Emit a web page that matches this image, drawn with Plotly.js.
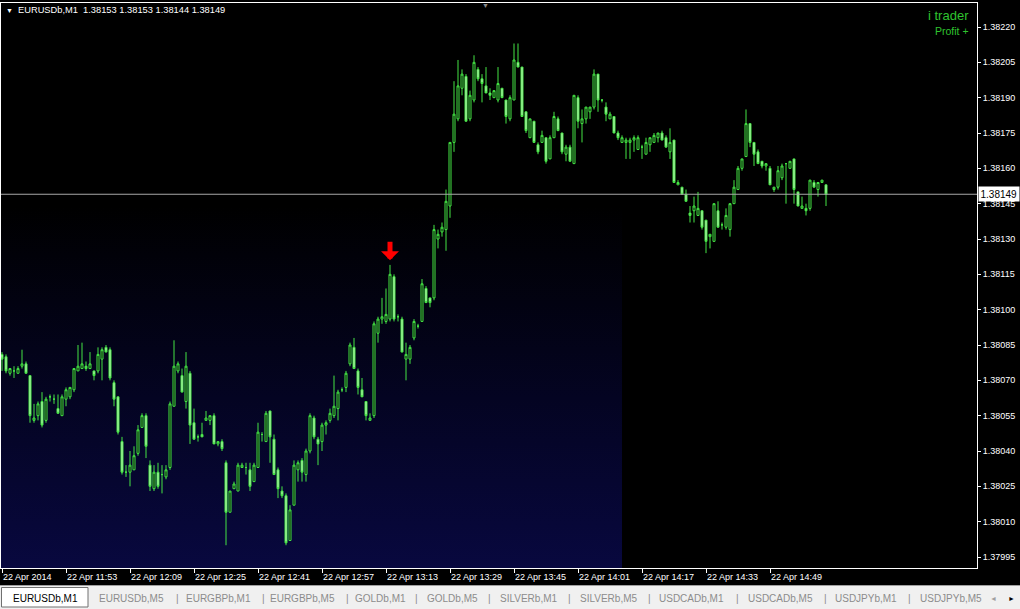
<!DOCTYPE html>
<html><head><meta charset="utf-8">
<script src="https://cdn.plot.ly/plotly-3.0.1.min.js"></script>
<style>html,body{margin:0;padding:0;background:#000;overflow:hidden}#chart{width:1020px;height:609px}</style>
</head><body><div id="chart"></div>
<script>
// ---------- data ----------
const symbolTitle = 'EURUSDb,M1\u00a0\u00a01.38153 1.38153 1.38144 1.38149';
const startMinute = {y:2014, mo:3, d:22, h:11, mi:37};
const openP = [
1.38081,1.38080,1.38073,1.38074,1.38073,1.38076,1.38077,1.38072,1.38053,1.38055,
1.38061,1.38053,1.38063,1.38062,1.38058,1.38055,1.38062,1.38063,1.38066,1.38074,
1.38075,1.38076,1.38075,1.38074,1.38074,1.38079,1.38084,1.38083,1.38069,1.38063,
1.38044,1.38031,1.38031,1.38032,1.38039,1.38050,1.38055,1.38034,1.38024,1.38031,
1.38030,1.38029,1.38033,1.38059,1.38074,1.38072,1.38061,1.38073,1.38052,1.38046,
1.38047,1.38053,1.38053,1.38055,1.38043,1.38044,1.38035,1.38014,1.38024,1.38023,
1.38033,1.38033,1.38032,1.38027,1.38033,1.38047,1.38044,1.38057,1.38045,1.38032,
1.38023,1.38021,1.38002,1.38017,1.38032,1.38036,1.38030,1.38040,1.38054,1.38045,
1.38044,1.38051,1.38053,1.38055,1.38058,1.38066,1.38067,1.38077,1.38084,1.38074,
1.38066,1.38061,1.38053,1.38055,1.38090,1.38096,1.38095,1.38096,1.38114,1.38097,
1.38096,1.38079,1.38079,1.38088,1.38093,1.38095,1.38109,1.38105,1.38105,1.38130,
1.38133,1.38134,1.38144,1.38171,1.38181,1.38194,1.38199,1.38181,1.38189,1.38202,
1.38198,1.38195,1.38192,1.38190,1.38189,1.38194,1.38189,1.38181,1.38189,1.38205,
1.38203,1.38184,1.38173,1.38180,1.38170,1.38171,1.38173,1.38164,1.38173,1.38181,
1.38175,1.38166,1.38169,1.38162,1.38190,1.38179,1.38181,1.38184,1.38186,1.38200,
1.38189,1.38186,1.38181,1.38182,1.38175,1.38171,1.38171,1.38171,1.38172,1.38168,
1.38169,1.38166,1.38170,1.38171,1.38173,1.38175,1.38173,1.38167,1.38172,1.38153,
1.38152,1.38149,1.38141,1.38142,1.38140,1.38142,1.38138,1.38131,1.38129,1.38142,
1.38136,1.38135,1.38134,1.38145,1.38151,1.38160,1.38165,1.38179,1.38171,1.38167,
1.38163,1.38161,1.38160,1.38151,1.38152,1.38156,1.38162,1.38160,1.38164,1.38150,
1.38143,1.38143,1.38143,1.38154,1.38151,1.38154,1.38153];
const highP = [
1.38082,1.38081,1.38075,1.38076,1.38076,1.38083,1.38078,1.38072,1.38060,1.38061,
1.38065,1.38063,1.38064,1.38064,1.38064,1.38064,1.38067,1.38067,1.38075,1.38085,
1.38086,1.38078,1.38082,1.38074,1.38084,1.38084,1.38085,1.38084,1.38070,1.38063,
1.38046,1.38034,1.38040,1.38042,1.38051,1.38056,1.38056,1.38036,1.38034,1.38035,
1.38034,1.38034,1.38061,1.38087,1.38078,1.38075,1.38082,1.38074,1.38058,1.38047,
1.38052,1.38057,1.38055,1.38056,1.38044,1.38045,1.38036,1.38023,1.38027,1.38035,
1.38035,1.38035,1.38035,1.38035,1.38052,1.38048,1.38057,1.38057,1.38047,1.38033,
1.38025,1.38022,1.38017,1.38036,1.38036,1.38037,1.38041,1.38056,1.38055,1.38046,
1.38052,1.38053,1.38058,1.38072,1.38066,1.38067,1.38074,1.38086,1.38088,1.38075,
1.38071,1.38061,1.38056,1.38095,1.38097,1.38105,1.38109,1.38119,1.38115,1.38098,
1.38097,1.38086,1.38085,1.38096,1.38094,1.38113,1.38110,1.38105,1.38136,1.38134,
1.38137,1.38151,1.38171,1.38197,1.38206,1.38202,1.38200,1.38193,1.38208,1.38203,
1.38200,1.38203,1.38194,1.38193,1.38203,1.38194,1.38189,1.38191,1.38213,1.38213,
1.38203,1.38184,1.38181,1.38180,1.38171,1.38176,1.38173,1.38174,1.38184,1.38182,
1.38175,1.38170,1.38170,1.38191,1.38191,1.38185,1.38186,1.38186,1.38202,1.38200,
1.38189,1.38188,1.38184,1.38182,1.38176,1.38174,1.38173,1.38173,1.38174,1.38174,
1.38170,1.38173,1.38173,1.38175,1.38175,1.38176,1.38174,1.38177,1.38172,1.38155,
1.38152,1.38151,1.38144,1.38148,1.38150,1.38142,1.38138,1.38132,1.38145,1.38146,
1.38137,1.38143,1.38145,1.38155,1.38161,1.38164,1.38185,1.38179,1.38171,1.38168,
1.38163,1.38162,1.38161,1.38152,1.38161,1.38162,1.38162,1.38163,1.38164,1.38150,
1.38148,1.38145,1.38155,1.38155,1.38154,1.38155,1.38153];
const lowP = [
1.38074,1.38073,1.38072,1.38071,1.38073,1.38075,1.38073,1.38052,1.38052,1.38053,
1.38050,1.38052,1.38061,1.38060,1.38056,1.38055,1.38059,1.38062,1.38065,1.38074,
1.38075,1.38074,1.38075,1.38070,1.38073,1.38070,1.38082,1.38070,1.38059,1.38047,
1.38030,1.38029,1.38025,1.38032,1.38038,1.38050,1.38037,1.38023,1.38023,1.38024,
1.38022,1.38028,1.38032,1.38059,1.38073,1.38065,1.38058,1.38043,1.38045,1.38044,
1.38046,1.38053,1.38051,1.38043,1.38042,1.38040,1.38000,1.38014,1.38024,1.38023,
1.38033,1.38030,1.38023,1.38027,1.38033,1.38044,1.38044,1.38035,1.38030,1.38020,
1.38020,1.38000,1.38002,1.38017,1.38027,1.38027,1.38027,1.38039,1.38045,1.38034,
1.38040,1.38047,1.38052,1.38054,1.38053,1.38065,1.38065,1.38076,1.38075,1.38064,
1.38063,1.38053,1.38053,1.38054,1.38086,1.38094,1.38094,1.38095,1.38095,1.38095,
1.38082,1.38070,1.38077,1.38087,1.38092,1.38095,1.38103,1.38101,1.38104,1.38126,
1.38131,1.38125,1.38139,1.38167,1.38180,1.38191,1.38180,1.38180,1.38188,1.38197,
1.38188,1.38192,1.38189,1.38190,1.38188,1.38190,1.38179,1.38180,1.38189,1.38203,
1.38182,1.38175,1.38173,1.38171,1.38166,1.38171,1.38162,1.38164,1.38173,1.38176,
1.38166,1.38163,1.38163,1.38162,1.38177,1.38171,1.38179,1.38181,1.38185,1.38184,
1.38188,1.38180,1.38181,1.38175,1.38172,1.38171,1.38164,1.38164,1.38167,1.38168,
1.38164,1.38166,1.38167,1.38171,1.38171,1.38172,1.38169,1.38164,1.38154,1.38153,
1.38149,1.38146,1.38137,1.38137,1.38140,1.38134,1.38124,1.38126,1.38129,1.38135,
1.38134,1.38134,1.38131,1.38145,1.38151,1.38159,1.38165,1.38169,1.38161,1.38162,
1.38160,1.38159,1.38153,1.38150,1.38151,1.38155,1.38145,1.38160,1.38145,1.38144,
1.38143,1.38140,1.38142,1.38152,1.38148,1.38154,1.38144];
const closeP = [
1.38079,1.38074,1.38075,1.38074,1.38075,1.38077,1.38073,1.38055,1.38054,1.38060,
1.38051,1.38062,1.38063,1.38062,1.38056,1.38063,1.38066,1.38067,1.38075,1.38076,
1.38077,1.38075,1.38077,1.38072,1.38081,1.38083,1.38082,1.38071,1.38062,1.38048,
1.38031,1.38031,1.38034,1.38038,1.38049,1.38055,1.38042,1.38025,1.38031,1.38025,
1.38030,1.38032,1.38060,1.38076,1.38077,1.38065,1.38076,1.38051,1.38045,1.38046,
1.38046,1.38054,1.38055,1.38043,1.38044,1.38041,1.38014,1.38023,1.38026,1.38034,
1.38034,1.38033,1.38025,1.38034,1.38048,1.38047,1.38056,1.38046,1.38030,1.38024,
1.38021,1.38001,1.38015,1.38034,1.38035,1.38031,1.38040,1.38055,1.38046,1.38043,
1.38051,1.38052,1.38056,1.38059,1.38065,1.38066,1.38073,1.38085,1.38075,1.38067,
1.38063,1.38055,1.38054,1.38094,1.38096,1.38097,1.38098,1.38115,1.38096,1.38097,
1.38082,1.38081,1.38084,1.38095,1.38093,1.38111,1.38103,1.38103,1.38134,1.38132,
1.38135,1.38146,1.38171,1.38183,1.38195,1.38200,1.38180,1.38191,1.38205,1.38198,
1.38196,1.38192,1.38191,1.38193,1.38196,1.38190,1.38182,1.38190,1.38206,1.38203,
1.38182,1.38176,1.38181,1.38171,1.38167,1.38174,1.38163,1.38173,1.38182,1.38176,
1.38167,1.38169,1.38163,1.38191,1.38180,1.38181,1.38186,1.38186,1.38200,1.38189,
1.38189,1.38183,1.38183,1.38175,1.38173,1.38173,1.38172,1.38172,1.38173,1.38173,
1.38169,1.38171,1.38173,1.38174,1.38175,1.38172,1.38169,1.38171,1.38154,1.38154,
1.38149,1.38146,1.38140,1.38144,1.38143,1.38135,1.38129,1.38132,1.38145,1.38135,
1.38136,1.38140,1.38145,1.38152,1.38160,1.38164,1.38179,1.38171,1.38166,1.38162,
1.38161,1.38162,1.38153,1.38152,1.38159,1.38161,1.38162,1.38163,1.38151,1.38144,
1.38144,1.38142,1.38155,1.38152,1.38154,1.38155,1.38149];
const xTickTimes = ['2014-04-22 11:37','2014-04-22 11:53','2014-04-22 12:09','2014-04-22 12:25',
  '2014-04-22 12:41','2014-04-22 12:57','2014-04-22 13:13','2014-04-22 13:29','2014-04-22 13:45',
  '2014-04-22 14:01','2014-04-22 14:17','2014-04-22 14:33','2014-04-22 14:49'];
const xTickLabels = ['22 Apr 2014','22 Apr 11:53','22 Apr 12:09','22 Apr 12:25','22 Apr 12:41',
  '22 Apr 12:57','22 Apr 13:13','22 Apr 13:29','22 Apr 13:45','22 Apr 14:01','22 Apr 14:17',
  '22 Apr 14:33','22 Apr 14:49'];
const yTickValues = [1.37995,1.38010,1.38025,1.38040,1.38055,1.38070,1.38085,1.38100,
  1.38115,1.38130,1.38145,1.38160,1.38175,1.38190,1.38205,1.38220];
const bidPrice = 1.38149;
const signalBar = 97;
const signalPrice = 1.38121;
const tabLabels = ['EURUSDb,M1','EURUSDb,M5','EURGBPb,M1','EURGBPb,M5','GOLDb,M1','GOLDb,M5',
  'SILVERb,M1','SILVERb,M5','USDCADb,M1','USDCADb,M5','USDJPYb,M1','USDJPYb,M5'];

// ---------- layout helpers (pixel geometry of the MT4 window) ----------
const W = 1020, H = 609;
const M = {l:1, r:43, t:3, b:41};
const PW = W - M.l - M.r, PH = H - M.t - M.b;
const px = x => (x - M.l) / PW;          // page px -> paper x
const py = y => (H - M.b - y) / PH;      // page px -> paper y
const tabCenters = [45,131,218,302,380,452,528,608,691,780,866,951];
const tabSeps = [177,263,347,416,489,569,649,737,825,909];

function timeAt(i){
  const d = new Date(Date.UTC(startMinute.y,startMinute.mo,startMinute.d,startMinute.h,startMinute.mi+i));
  return d.toISOString().slice(0,16).replace('T',' ');
}
const barTimes = openP.map((_,i)=>timeAt(i));

const FONT = 'Liberation Sans, Arial, sans-serif';
const green = '#44e444';

const trace = {
  type:'candlestick', x:barTimes, open:openP, high:highP, low:lowP, close:closeP,
  increasing:{line:{color:green,width:1}, fillcolor:'#000000'},
  decreasing:{line:{color:green,width:1}, fillcolor:'#c4f4bc'},
  whiskerwidth:0, hoverinfo:'skip', showlegend:false
};

const gradSvg = '<svg xmlns="http://www.w3.org/2000/svg" width="100" height="100" preserveAspectRatio="none">'+
 '<defs><linearGradient id="g" x1="0" y1="0" x2="0" y2="1">'+
 '<stop offset="0" stop-color="#000000"/><stop offset="0.36" stop-color="#000000"/>'+
 '<stop offset="0.7" stop-color="#040422"/>'+
 '<stop offset="1" stop-color="#08083f"/></linearGradient></defs>'+
 '<rect width="100" height="100" fill="url(#g)"/></svg>';

const shapes = [
  // tab bar
  {type:'rect', xref:'paper', yref:'paper', x0:px(0), x1:px(W), y0:py(609), y1:py(585),
   fillcolor:'#f0f0f0', line:{width:0}, layer:'below'},
  {type:'line', xref:'paper', yref:'paper', x0:px(0), x1:px(W), y0:py(585.5), y1:py(585.5),
   line:{color:'#a0a0a0', width:1}},
  {type:'rect', xref:'paper', yref:'paper', x0:px(1.5), x1:px(88), y0:py(607), y1:py(587.5),
   fillcolor:'#ffffff', line:{color:'#707070', width:1}},
  // bid line
  {type:'line', xref:'paper', yref:'y', x0:0, x1:1, y0:bidPrice, y1:bidPrice,
   line:{color:'#a8a8a8', width:1}}
];

const annotations = [
  {xref:'paper', yref:'paper', x:px(4), y:py(10), xanchor:'left', yanchor:'middle', showarrow:false,
   text:'\u25BC', font:{family:FONT, size:7, color:'#ffffff'}},
  {xref:'paper', yref:'paper', x:px(16), y:py(10), xanchor:'left', yanchor:'middle', showarrow:false,
   text:symbolTitle, font:{family:FONT, size:9.3, color:'#ffffff'}},
  {xref:'paper', yref:'paper', x:px(971), y:py(15), xanchor:'right', yanchor:'middle', showarrow:false,
   text:'i trader', font:{family:FONT, size:13, color:'#2fc42f'}},
  {xref:'paper', yref:'paper', x:px(971), y:py(31), xanchor:'right', yanchor:'middle', showarrow:false,
   text:'Profit +', font:{family:FONT, size:10.5, color:'#2fc42f'}},
  {xref:'paper', yref:'paper', x:px(485), y:py(5), xanchor:'center', yanchor:'middle', showarrow:false,
   text:'\u25BC', font:{family:FONT, size:7, color:'#8a8a8a'}},
  // bid price label
  {xref:'paper', yref:'y', x:1, y:bidPrice, xanchor:'left', yanchor:'middle', xshift:1, showarrow:false,
   text:bidPrice.toFixed(5), bgcolor:'#ffffff', borderpad:1.5,
   font:{family:FONT, size:10, color:'#000000'}},
  // signal arrow
  {xref:'x', yref:'y', x:barTimes[signalBar], y:signalPrice, text:'', showarrow:true,
   arrowhead:1, arrowsize:0.6, arrowwidth:5, arrowcolor:'#ff0000', ax:0, ay:-20, standoff:0}
];
tabLabels.forEach((t,i)=>{
  annotations.push({xref:'paper', yref:'paper', x:px(tabCenters[i]), y:py(598), xanchor:'center',
    yanchor:'middle', showarrow:false, text:t,
    font:{family:FONT, size:10, color: i===0 ? '#000000' : '#8c8c8c'}});
});
tabSeps.forEach(s=>{
  annotations.push({xref:'paper', yref:'paper', x:px(s), y:py(598), xanchor:'center', yanchor:'middle',
    showarrow:false, text:'|', font:{family:FONT, size:10, color:'#8c8c8c'}});
});
annotations.push({xref:'paper', yref:'paper', x:px(994), y:py(598), xanchor:'center', yanchor:'middle',
  showarrow:false, text:'\u25C4', font:{family:FONT, size:7, color:'#a0a0a0'}});
annotations.push({xref:'paper', yref:'paper', x:px(1011), y:py(598), xanchor:'center', yanchor:'middle',
  showarrow:false, text:'\u25BA', font:{family:FONT, size:7, color:'#000000'}});

const layout = {
  width:W, height:H, margin:{l:M.l, r:M.r, t:M.t, b:M.b, pad:0},
  paper_bgcolor:'#000000', plot_bgcolor:'rgba(0,0,0,0)',
  showlegend:false, boxgap:0.5, boxgroupgap:0, hovermode:false,
  xaxis:{type:'date', range:['2014-04-22 11:36:45','2014-04-22 15:40:45'],
    tickvals:xTickTimes, ticktext:xTickLabels, ticks:'outside', ticklen:4, tickwidth:1,
    tickcolor:'#ffffff', ticklabelposition:'outside right',
    tickfont:{family:FONT, size:9, color:'#ffffff'},
    showgrid:false, zeroline:false, showline:true, linecolor:'#ffffff', linewidth:1, mirror:true,
    rangeslider:{visible:false}, fixedrange:true},
  yaxis:{side:'right', range:[1.3799033,1.3823019], tickvals:yTickValues,
    ticktext:yTickValues.map(v=>v.toFixed(5)), ticks:'outside', ticklen:3, tickwidth:1,
    tickcolor:'#ffffff', tickfont:{family:FONT, size:9, color:'#ffffff'},
    showgrid:false, zeroline:false, showline:true, linecolor:'#ffffff', linewidth:1, mirror:true,
    fixedrange:true},
  images:[{source:'data:image/svg+xml;base64,'+btoa(gradSvg), xref:'paper', yref:'paper',
    x:0, y:1, sizex:px(622), sizey:1, xanchor:'left', yanchor:'top', sizing:'stretch', layer:'below'}],
  shapes:shapes, annotations:annotations
};

Plotly.newPlot('chart', [trace], layout, {staticPlot:true, displayModeBar:false});
</script></body></html>
